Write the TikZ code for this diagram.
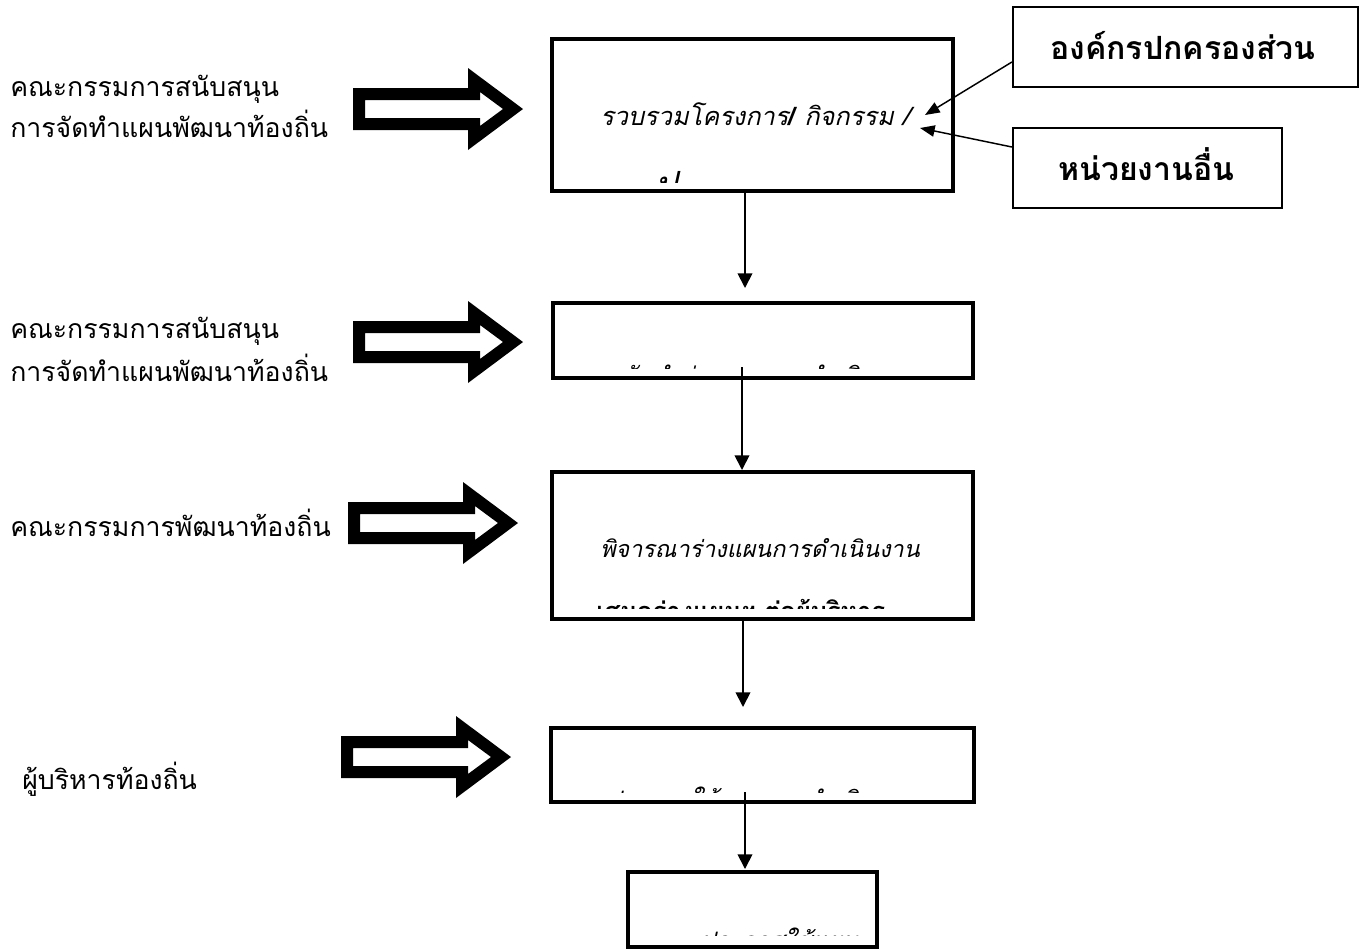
\documentclass[tikz,border=0pt]{standalone}
\usepackage{fontspec}
\newfontfamily\thai[Script=Thai]{Loma}
\newfontfamily\thaiit[Script=Thai,FakeSlant=0.22]{Loma}
\usetikzlibrary{arrows.meta}
\newcommand\blockarr[2]{%
 \fill[black,even odd rule] (#1-170,#2-21) -- (#1-55,#2-21) -- (#1-55,#2-41) -- (#1,#2) -- (#1-55,#2+41) -- (#1-55,#2+21) -- (#1-170,#2+21) -- cycle
 (#1-158,#2-9) -- (#1-43,#2-9) -- (#1-43,#2-17) -- (#1-20,#2) -- (#1-43,#2+17) -- (#1-43,#2+9) -- (#1-158,#2+9) -- cycle;}
\tikzset{
 bigbox/.style={draw, line width=3pt, inner sep=0pt},
 rbox/.style={draw, line width=1.6pt, inner sep=0pt},
 lbl/.style={anchor=base west, inner sep=0pt, font=\thai\fontsize{20}{24}\selectfont},
 rlbl/.style={anchor=base west, inner sep=0pt, font=\thai\bfseries\fontsize{24}{28}\selectfont},
 itxt/.style={anchor=base west, inner sep=0pt, font=\thaiit\fontsize{18}{22}\selectfont},
 btxt/.style={anchor=base west, inner sep=0pt, font=\thai\bfseries\fontsize{19}{23}\selectfont},
 flow/.style={line width=1.3pt, -{Triangle[length=11pt,width=11pt]}},
 feed/.style={line width=1.1pt, -{Triangle[length=11pt,width=8.5pt]}}
}
\begin{document}
\begin{tikzpicture}[x=0.75pt,y=-0.75pt]
\useasboundingbox (0,0) rectangle (1365,951);
% left labels
\node[lbl] (l1a) at (10,96) {คณะกรรมการสนับสนุน};
\node[lbl] (l1b) at (10,137) {การจัดทำแผนพัฒนาท้องถิ่น};
\node[lbl] (l2a) at (10,338) {คณะกรรมการสนับสนุน};
\node[lbl] (l2b) at (10,381) {การจัดทำแผนพัฒนาท้องถิ่น};
\node[lbl] (l3) at (10,536) {คณะกรรมการพัฒนาท้องถิ่น};
\node[lbl] (l4) at (22,789) {ผู้บริหารท้องถิ่น};
% block arrows
\blockarr{523}{109}
\blockarr{523}{342}
\blockarr{518}{523}
\blockarr{511}{757}
% boxes
\node[bigbox, minimum width=300.75pt, minimum height=114pt] (b1) at (752.5,115) {};
\node[bigbox, minimum width=315pt, minimum height=56.25pt] (b2) at (763,340.5) {};
\node[bigbox, minimum width=315.75pt, minimum height=110.25pt] (b3) at (762.5,545.5) {};
\node[bigbox, minimum width=317.25pt, minimum height=55.5pt] (b4) at (762.5,765) {};
\node[bigbox, minimum width=186.75pt, minimum height=56.25pt] (b5) at (752.5,909.5) {};
\node[rbox, minimum width=258.75pt, minimum height=60pt] (rA) at (1185.5,47) {};
\node[rbox, minimum width=201.75pt, minimum height=60pt] (rB) at (1147.5,168) {};
% box texts
\node[itxt, font=\thaiit\fontsize{19}{23}\selectfont] (t1) at (600,125) {รวบรวมโครงการ{\thai\bfseries/} กิจกรรม /};
\begin{scope}
 \clip (556,140) rectangle (950,182);
 \node[itxt, font=\thaiit\fontsize{26}{30}\selectfont] (t1b) at (655,196) {ป};
\end{scope}
\begin{scope}
 \clip (556,306) rectangle (970,368);
 \node[itxt] (t2) at (622,384) {จัดทำร่างแผนการดำเนินงาน};
\end{scope}
\node[itxt, font=\thaiit\fontsize{17.5}{21}\selectfont] (t3) at (600,557) {พิจารณาร่างแผนการดำเนินงาน};
\begin{scope}
 \clip (556,575) rectangle (970,608);
 \node[btxt] (t3b) at (596,620) {เสนอร่างแผนฯ ต่อผู้บริหาร};
\end{scope}
\begin{scope}
 \clip (556,731) rectangle (970,792);
 \node[itxt] (t4) at (606,808) {ประกาศใช้แผนการดำเนินงาน};
\end{scope}
\begin{scope}
 \clip (631,875) rectangle (874,935);
 \node[itxt] (t5) at (700,949) {ประกาศใช้แผน};
\end{scope}
\node[rlbl] (tA) at (1050,59) {องค์กรปกครองส่วน};
\node[rlbl] (tB) at (1058,180) {หน่วยงานอื่น};
% flow arrows
\coordinate (a1e) at (745,288);
\draw[flow] (b1.south -| a1e) -- (a1e);
\coordinate (a2s) at (742,367);
\coordinate (a2e) at (742,470);
\draw[flow] (a2s) -- (a2e);
\coordinate (a3e) at (743,707);
\draw[flow] (b3.south -| a3e) -- (a3e);
\coordinate (a4s) at (745,792);
\coordinate (a4e) at (745,869);
\draw[flow] (a4s) -- (a4e);
% feed arrows
\coordinate (dAe) at (925,115);
\coordinate (dBe) at (920,128);
\draw[feed] ([yshift=-11.25pt]rA.west) -- (dAe);
\draw[feed] ([yshift=15.75pt]rB.west) -- (dBe);
\end{tikzpicture}
\end{document}
